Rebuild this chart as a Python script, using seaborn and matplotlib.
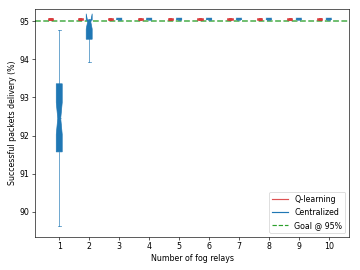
import matplotlib
matplotlib.use("Agg")
import matplotlib.pyplot as plt
from matplotlib.lines import Line2D
import seaborn as sns

relays = [1, 2, 3, 4, 5, 6, 7, 8, 9, 10]

# Q-learning: all runs at ~95.065
q_med = [95.065, 95.065, 95.065, 95.065, 95.065, 95.065, 95.065, 95.065, 95.065, 95.065]
q_q1 = [95.045, 95.045, 95.045, 95.045, 95.045, 95.045, 95.045, 95.045, 95.045, 95.045]
q_q3 = [95.085, 95.085, 95.085, 95.085, 95.085, 95.085, 95.085, 95.085, 95.085, 95.085]

# Centralized
c_whislo = [89.62, 93.93, 95.045, 95.045, 95.045, 95.045, 95.045, 95.045, 95.045, 95.045]
c_q1 = [91.57, 94.53, 95.045, 95.045, 95.045, 95.045, 95.045, 95.045, 95.045, 95.045]
c_med = [92.45, 95.00, 95.065, 95.065, 95.065, 95.065, 95.065, 95.065, 95.065, 95.065]
c_q3 = [93.36, 95.03, 95.085, 95.085, 95.085, 95.085, 95.085, 95.085, 95.085, 95.085]
c_whishi = [94.78, 95.05, 95.085, 95.085, 95.085, 95.085, 95.085, 95.085, 95.085, 95.085]
c_cilo = [92.03, 94.80, 95.045, 95.045, 95.045, 95.045, 95.045, 95.045, 95.045, 95.045]
c_cihi = [92.87, 95.20, 95.085, 95.085, 95.085, 95.085, 95.085, 95.085, 95.085, 95.085]

goal = 95

pal = sns.color_palette("tab10")
red, blue, green = pal[3], pal[0], pal[2]

fig, ax = plt.subplots(figsize=(6.4, 4.8), dpi=56.25)
fig.subplots_adjust(left=0.098, right=0.97, top=0.966, bottom=0.123)

q_stats = [dict(med=m, q1=a, q3=b, whislo=a, whishi=b, fliers=[])
           for m, a, b in zip(q_med, q_q1, q_q3)]
c_stats = [dict(med=m, q1=a, q3=b, whislo=lo, whishi=hi, cilo=cl, cihi=ch, fliers=[])
           for m, a, b, lo, hi, cl, ch in zip(c_med, c_q1, c_q3, c_whislo,
                                              c_whishi, c_cilo, c_cihi)]

ax.axhline(goal, color=green, linestyle="--", linewidth=2, alpha=0.85, zorder=1)

ax.bxp(q_stats, positions=[r - 0.3 for r in relays], widths=0.17,
       patch_artist=True, manage_ticks=False, zorder=3,
       boxprops=dict(facecolor=red, edgecolor=red, alpha=0.8, linewidth=0.8),
       medianprops=dict(color=red, alpha=0.8, linewidth=0.8),
       whiskerprops=dict(color=red, alpha=0.8),
       capprops=dict(color=red, alpha=0.8))
ax.bxp(c_stats, positions=relays, widths=0.2, shownotches=True,
       patch_artist=True, manage_ticks=False, zorder=3,
       boxprops=dict(facecolor=blue, edgecolor=blue, linewidth=0.8),
       medianprops=dict(color=blue, linewidth=0.8),
       whiskerprops=dict(color=blue, alpha=0.8),
       capprops=dict(color=blue, alpha=0.8))

ax.set_xticks(relays)
ax.set_xticklabels([str(r) for r in relays])
ax.set_xlim(0.2, 10.68)
ax.set_ylim(89.34, 95.32)
ax.set_yticks([90, 91, 92, 93, 94, 95])
ax.set_xlabel("Number of fog relays")
ax.set_ylabel("Successful packets delivery (%)")

handles = [Line2D([], [], color=red, alpha=0.8),
           Line2D([], [], color=blue),
           Line2D([], [], color=green, linestyle="--")]
ax.legend(handles, ["Q-learning", "Centralized", "Goal @ 95%"], loc="lower right")

fig.savefig("out.png", dpi=56.25)
